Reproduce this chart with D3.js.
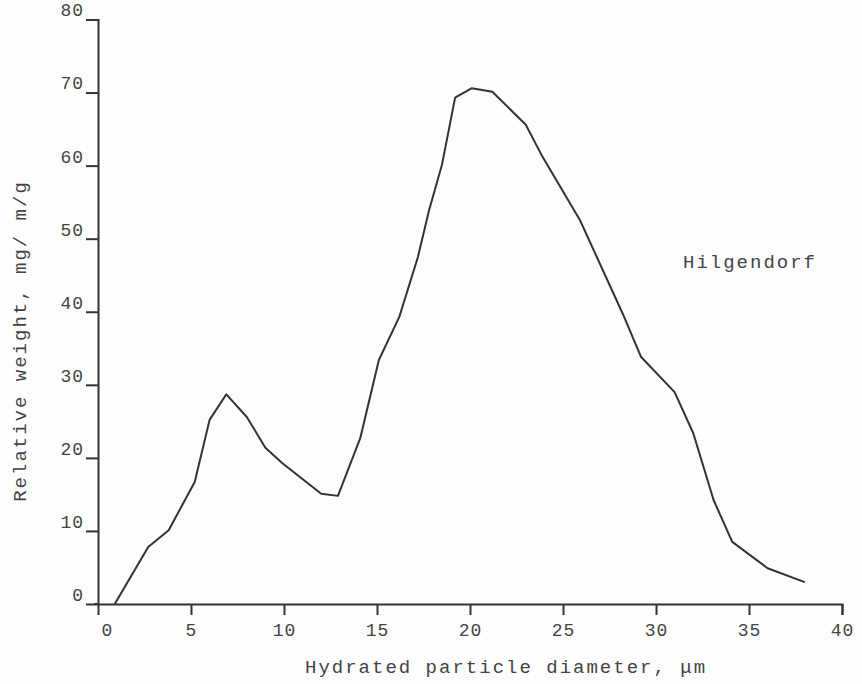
<!DOCTYPE html>
<html>
<head>
<meta charset="utf-8">
<script src="https://cdn.jsdelivr.net/npm/d3@7"></script>
<style>
  body { margin: 0; background: #fdfdfd; }
  text { font-family: "Liberation Mono", "DejaVu Sans Mono", monospace; fill: #444; }
</style>
</head>
<body>
<div class="holder"></div>
<script>
// diameter (um) and relative weight (mg/m/g)
var diameter = [0.9, 2.7, 3.8, 5.2, 6.0, 6.9, 8.0, 9.0, 9.9, 12.0, 12.9, 14.1, 15.1, 16.2, 17.2, 17.8,
                18.5, 19.2, 20.1, 21.2, 23.0, 23.9, 25.9, 28.2, 29.2, 31.0, 32.0, 33.1, 34.1, 36.0, 38.0]
var weight = [0, 7.8, 10.1, 16.7, 25.2, 28.7, 25.6, 21.4, 19.3, 15.1, 14.8, 22.7, 33.4, 39.3, 47.5, 53.9,
              60.2, 69.3, 70.6, 70.1, 65.6, 61.2, 52.6, 39.8, 33.8, 29.0, 23.4, 14.2, 8.5, 4.9, 3.0]
var xTicks = [0, 5, 10, 15, 20, 25, 30, 35, 40]
var yTicks = [0, 10, 20, 30, 40, 50, 60, 70, 80]
var seriesName = 'Hilgendorf'

var width = 862,
    height = 684

var chart = d3.select('.holder')
  .append('svg')
  .attr('width', width)
  .attr('height', height)

var xScale = d3.scaleLinear()
  .domain([0, 40])
  .range([98, 842])

var yScale = d3.scaleLinear()
  .domain([0, 80])
  .range([604, 19.5])

var xAxis = d3.axisBottom(xScale)
  .tickValues(xTicks)
  .tickSizeOuter(0)
  .tickSize(11)
  .tickPadding(8)

var yAxis = d3.axisLeft(yScale)
  .tickValues(yTicks)
  .tickSizeOuter(0)
  .tickSize(12)
  .tickPadding(2)

var xChart = chart.append('g')
  .attr('transform', 'translate(0,604)')
  .call(xAxis)

var yChart = chart.append('g')
  .attr('transform', 'translate(98,0)')
  .call(yAxis)

// ticks at zero sit on the other axis
xChart.selectAll('.tick line').filter(function(d) { return d === 0 }).remove()
yChart.selectAll('.tick line').filter(function(d) { return d === 0 }).remove()
xChart.selectAll('.tick text').filter(function(d) { return d === 0 }).attr('x', 9)

chart.selectAll('.domain, .tick line')
  .attr('stroke', '#333')
  .attr('stroke-width', 2)

xChart.selectAll('.tick text')
  .style('font-size', '18px')
  .style('letter-spacing', '1px')
  .attr('fill', '#444')

yChart.selectAll('.tick text')
  .style('font-size', '18px')
  .style('letter-spacing', '1px')
  .attr('dy', '-0.2em')
  .attr('fill', '#444')

// extend the x axis line a little left of the y axis
chart.append('line')
  .attr('x1', xScale(0) - 4)
  .attr('x2', xScale(0))
  .attr('y1', yScale(0))
  .attr('y2', yScale(0))
  .attr('stroke', '#333')
  .attr('stroke-width', 2)

var points = diameter.map(function(d, i) {
  return { x: d, y: weight[i] }
})

var line = d3.line()
  .x(function(d) { return xScale(d.x) })
  .y(function(d) { return yScale(d.y) })

chart.append('path')
  .datum(points)
  .attr('d', line)
  .attr('fill', 'none')
  .attr('stroke', '#333')
  .attr('stroke-width', 2)
  .attr('stroke-linejoin', 'round')

chart.append('text')
  .attr('x', 305)
  .attr('y', 673)
  .style('font-size', '19px')
  .style('letter-spacing', '2px')
  .text('Hydrated particle diameter, \u03bcm')

chart.append('text')
  .attr('transform', 'translate(19,341) rotate(-90)')
  .attr('text-anchor', 'middle')
  .attr('dy', '0.35em')
  .style('font-size', '19px')
  .style('letter-spacing', '2px')
  .text('Relative weight, mg/ m/g')

chart.append('text')
  .attr('x', 683)
  .attr('y', 268)
  .style('font-size', '19px')
  .style('letter-spacing', '2px')
  .text(seriesName)
</script>
</body>
</html>
